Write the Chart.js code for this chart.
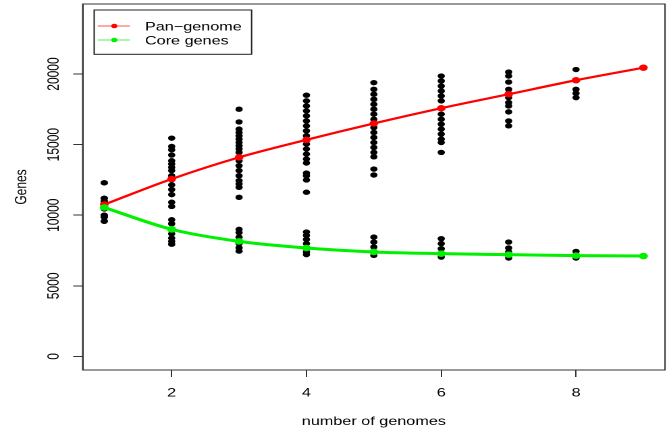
<!DOCTYPE html>
<html><head><meta charset="utf-8">
<script src="https://cdn.jsdelivr.net/npm/chart.js@4.4.0/dist/chart.umd.min.js"></script>
<style>
html,body{margin:0;padding:0;background:#fff;overflow:hidden}
#wrap{position:absolute;left:0;top:0;width:497px;height:431px;transform:scaleX(1.3501);transform-origin:0 0}
</style></head><body>
<div id="wrap"><canvas id="c"></canvas></div>
<script>
// ---- data ----
const genomeCounts = [1, 2, 3, 4, 5, 6, 7, 8, 9];
const panGenome = [10760, 12570, 14100, 15340, 16500, 17580, 18570, 19560, 20450];
const coreGenes = [10550, 9000, 8150, 7680, 7400, 7280, 7210, 7140, 7110];
const panSamples = [
  [12300, 11200, 10980, 10750, 10600, 10450, 10000, 9880, 9580],
  [15460, 14870, 14640, 14260, 13860, 13630, 13390, 13160, 12800, 12520, 12150, 11820, 11460, 10920, 10620],
  [17510, 16610, 16100, 15860, 15630, 15390, 15150, 14920, 14690, 14450, 14100, 13860, 13510, 13160, 12800, 12450, 12220, 11980, 11270],
  [18500, 18100, 17740, 17390, 17040, 16680, 16330, 15980, 15630, 15340, 15040, 14690, 14330, 13980, 13700, 12990, 12800, 12500, 11630],
  [19390, 18920, 18570, 18210, 17860, 17510, 17160, 16800, 16500, 16210, 15860, 15510, 15150, 14800, 14450, 14140, 13270, 12850],
  [19860, 19510, 19150, 18800, 18450, 18100, 17580, 17160, 16800, 16450, 16100, 15750, 15390, 15150, 14450],
  [20140, 19860, 19430, 18920, 18640, 18330, 17980, 17740, 17320, 16680, 16330],
  [20320, 19560, 18920, 18640, 18330],
  [20450]
];
const coreSamples = [
  [12300, 11200, 10980, 10750, 10600, 10450, 10000, 9880, 9580],
  [9680, 9400, 9040, 8690, 8380, 8150, 7950],
  [9000, 8770, 8450, 8220, 7990, 7700, 7460],
  [8810, 8570, 8290, 7990, 7700, 7400, 7210],
  [8450, 8100, 7750, 7440, 7160],
  [8340, 7990, 7630, 7280, 7040],
  [8100, 7680, 7400, 7160, 6970],
  [7440, 7160, 6970],
  [7110]
];
const xTicks = [2, 4, 6, 8];
const yTicks = [0, 5000, 10000, 15000, 20000];
const yTickLabels = ['0', '5000', '10000', '15000', '20000'];
const seriesLabels = ['Pan\u2212genome', 'Core genes'];

// ---- build datasets ----
const samplePoints = [];
genomeCounts.forEach((n, i) => {
  panSamples[i].forEach(v => samplePoints.push({x: n, y: v}));
  coreSamples[i].forEach(v => samplePoints.push({x: n, y: v}));
});
const panPts = genomeCounts.map((n, i) => ({x: n, y: panGenome[i]}));
const corePts = genomeCounts.map((n, i) => ({x: n, y: coreGenes[i]}));

const RED = '#FF0000', GREEN = '#00F000';
const FONT = "'Liberation Sans', Arial, Helvetica, sans-serif";
const TXT = '#000';

const rPlugin = {
  id: 'rstyle',
  afterDraw(chart) {
    const ctx = chart.ctx, ca = chart.chartArea, ys = chart.scales.y;
    ctx.save();
    // box around the plot region
    ctx.strokeStyle = '#333'; ctx.lineWidth = 1;
    ctx.strokeRect(ca.left, ca.top, ca.right - ca.left, ca.bottom - ca.top);
    // rotated y tick labels
    ctx.fillStyle = TXT;
    ctx.font = '12px ' + FONT;
    ctx.textAlign = 'center'; ctx.textBaseline = 'alphabetic';
    yTicks.forEach((v, i) => {
      const py = ys.getPixelForValue(v);
      ctx.save();
      ctx.translate(ca.left - 18, py);
      ctx.rotate(-Math.PI / 2);
      ctx.fillText(yTickLabels[i], 0, 0);
      ctx.restore();
    });
    // legend
    const lx = ca.left + 8.5, ly = ca.top + 6;
    ctx.strokeStyle = '#222'; ctx.lineWidth = 1;
    ctx.strokeRect(lx, ly, 116.6, 44.3);
    const cols = [RED, GREEN];
    seriesLabels.forEach((lab, i) => {
      const yy = ly + 16 + i * 14;
      ctx.strokeStyle = cols[i]; ctx.globalAlpha = 0.55; ctx.lineWidth = 1.2;
      ctx.beginPath(); ctx.moveTo(lx + 2.6, yy); ctx.lineTo(lx + 26.5, yy); ctx.stroke();
      ctx.globalAlpha = 1;
      ctx.fillStyle = cols[i];
      ctx.beginPath(); ctx.arc(lx + 14.9, yy, 2.3, 0, Math.PI * 2); ctx.fill();
      ctx.fillStyle = TXT;
      ctx.textAlign = 'left';
      ctx.fillText(lab, lx + 37.6, yy + 4.4);
    });
    ctx.restore();
  }
};

new Chart(document.getElementById('c'), {
  type: 'scatter',
  data: {
    datasets: [
      {label: seriesLabels[1], type: 'line', data: corePts, borderColor: GREEN, backgroundColor: GREEN,
       borderWidth: 3, pointRadius: 3.3, pointBorderWidth: 0, cubicInterpolationMode: 'monotone', order: 0},
      {label: seriesLabels[0], type: 'line', data: panPts, borderColor: RED, backgroundColor: RED,
       borderWidth: 2.2, pointRadius: 3.2, pointBorderWidth: 0, cubicInterpolationMode: 'monotone', order: 1},
      {label: 'samples', data: samplePoints, backgroundColor: '#000', borderWidth: 0, pointRadius: 2.7, order: 2}
    ]
  },
  options: {
    responsive: true, maintainAspectRatio: false, animation: false, devicePixelRatio: 2,
    layout: {padding: {top: 3, right: 4.45, left: 0, bottom: 0}},
    plugins: {legend: {display: false}, tooltip: {enabled: false}},
    scales: {
      x: {
        type: 'linear', min: 0.68, max: 9.32,
        afterBuildTicks: s => { s.ticks = xTicks.map(v => ({value: v})); },
        afterFit: s => { s.height = 61; },
        grid: {drawOnChartArea: false, drawTicks: true, tickLength: 7, color: '#333'},
        border: {display: true, color: '#333'},
        ticks: {color: TXT, font: {family: FONT, size: 12}, padding: 9, maxRotation: 0, callback: v => String(v)},
        title: {display: true, text: 'number of genomes', color: TXT, font: {family: FONT, size: 12}, padding: {top: 2, bottom: 2}}
      },
      y: {
        type: 'linear', min: -960, max: 24960,
        afterBuildTicks: s => { s.ticks = yTicks.map(v => ({value: v})); },
        afterFit: s => { s.width = 61.25; },
        grid: {drawOnChartArea: false, drawTicks: true, tickLength: 7, color: '#333'},
        border: {display: true, color: '#333'},
        ticks: {display: false},
        title: {display: true, text: 'Genes', color: TXT, font: {family: FONT, size: 12}, padding: {top: 9, bottom: 9}}
      }
    }
  },
  plugins: [rPlugin]
});
</script>
</body></html>
